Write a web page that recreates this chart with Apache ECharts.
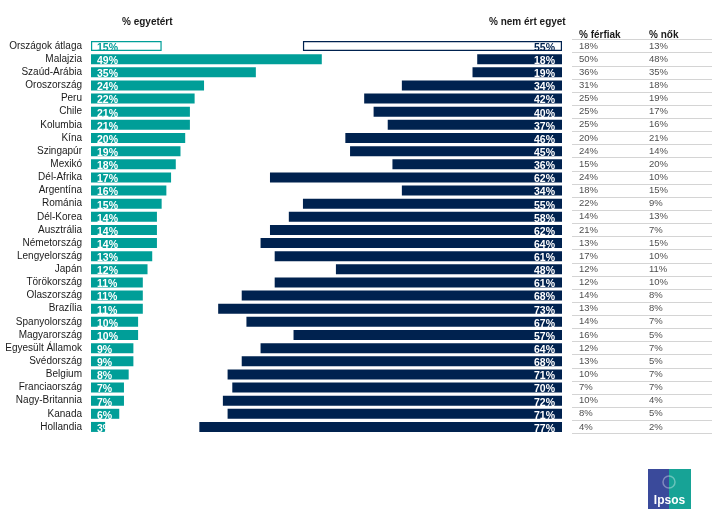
<!DOCTYPE html>
<html>
<head>
<meta charset="utf-8">
<script src="https://cdn.jsdelivr.net/npm/echarts@6/dist/echarts.min.js"></script>
<style>
html,body{margin:0;padding:0;background:#fff;}
#c{width:718px;height:522px;}
</style>
</head>
<body>
<div id="c"></div>
<script>
const countries = ['Országok átlaga','Malajzia','Szaúd-Arábia','Oroszország','Peru','Chile','Kolumbia','Kína','Szingapúr','Mexikó','Dél-Afrika','Argentína','Románia','Dél-Korea','Ausztrália','Németország','Lengyelország','Japán','Törökország','Olaszország','Brazília','Spanyolország','Magyarország','Egyesült Államok','Svédország','Belgium','Franciaország','Nagy-Britannia','Kanada','Hollandia'];
const agree =    [15,49,35,24,22,21,21,20,19,18,17,16,15,14,14,14,13,12,11,11,11,10,10,9,9,8,7,7,6,3];
const disagree = [55,18,19,34,42,40,37,46,45,36,62,34,55,58,62,64,61,48,61,68,73,67,57,64,68,71,70,72,71,77];
const men =      [18,50,36,31,25,25,25,20,24,15,24,18,22,14,21,13,17,12,12,14,13,14,16,12,13,10,7,10,8,4];
const women =    [13,48,35,18,19,17,16,21,14,20,10,15,9,13,7,15,10,11,10,8,8,7,5,7,5,7,7,4,5,2];
const tableHeaders = ['% férfiak','% nők'];
const titleAgree = '% egyetért';
const titleDisagree = '% nem ért egyet';

const TEAL = '#009E98';
const NAVY = '#00224F';
const FONT = 'Arial, "Liberation Sans", sans-serif';

const chart = echarts.init(document.getElementById('c'), null, {renderer:'canvas'});

const gridTop = 39.5, gridH = 394;

function catAxis(gridIndex, showLabels, split) {
  return {
    type:'category', gridIndex, data: countries, inverse:true,
    axisLine:{show:false}, axisTick:{show:false},
    axisLabel:{show:showLabels, interval:0, margin:9, fontSize:10, color:'#1a1a1a', fontFamily:FONT},
    splitLine:{show:!!split, interval:0, lineStyle:{color:'#d4d4d4', width:1}}
  };
}

const agreeData = agree.map((v,i)=> i===0 ? {value:v, itemStyle:{color:'#fff', borderColor:TEAL, borderWidth:1.2}, label:{color:TEAL}} : v);
const disagreeData = disagree.map((v,i)=> i===0 ? {value:v, itemStyle:{color:'#fff', borderColor:NAVY, borderWidth:1.2}, label:{color:NAVY}} : v);

const option = {
  animation:false,
  backgroundColor:'#fff',
  grid:[
    {left:91, top:gridTop, width:471, height:gridH},
    {left:91, top:gridTop, width:471, height:gridH},
    {left:572, top:gridTop, width:140, height:gridH}
  ],
  xAxis:[
    {type:'value', gridIndex:0, min:0, max:100, show:false},
    {type:'value', gridIndex:1, min:0, max:100, inverse:true, show:false},
    {type:'value', gridIndex:2, min:0, max:2, interval:1, position:'top',
      axisLine:{show:false}, axisTick:{show:false}, splitLine:{show:false},
      axisLabel:{show:true, margin:-1, align:'left', padding:[0,0,0,7], fontSize:10, fontWeight:'bold', color:'#1a1a1a', fontFamily:FONT,
        formatter:(v)=> tableHeaders[v] !== undefined ? tableHeaders[v] : ''}}
  ],
  yAxis:[
    catAxis(0, true, false),
    catAxis(1, false, false),
    catAxis(2, false, true)
  ],
  graphic:[
    {type:'text', left:122, top:17, style:{text:titleAgree, font:'bold 10px '+FONT, fill:'#1a1a1a'}},
    {type:'text', left:489, top:17, style:{text:titleDisagree, font:'bold 10px '+FONT, fill:'#1a1a1a'}},
    {type:'group', left:648, top:469, children:[
      {type:'rect', shape:{x:0,y:0,width:22,height:40}, style:{fill:'#3a4a9b'}},
      {type:'rect', shape:{x:21,y:0,width:22,height:40}, style:{fill:'#17a396'}},
      {type:'circle', shape:{cx:21,cy:13,r:6}, style:{fill:'none', stroke:'rgba(255,255,255,0.35)', lineWidth:1.5}},
      {type:'text', style:{x:21.5, y:32, text:'Ipsos', align:'center', verticalAlign:'middle', font:'bold 12px '+FONT, fill:'#fff'}}
    ]}
  ],
  series:[
    {type:'bar', xAxisIndex:0, yAxisIndex:0, data:agreeData, barWidth:10,
      itemStyle:{color:TEAL},
      label:{show:true, position:'insideLeft', distance:6, offset:[0,2], formatter:'{c}%', color:'#fff', fontWeight:'bold', fontSize:10.5, fontFamily:FONT}},
    {type:'bar', xAxisIndex:1, yAxisIndex:1, data:disagreeData, barWidth:10,
      itemStyle:{color:NAVY},
      label:{show:true, position:'insideRight', distance:7, offset:[0,2], formatter:'{c}%', color:'#fff', fontWeight:'bold', fontSize:10.5, fontFamily:FONT}},
    {type:'scatter', xAxisIndex:2, yAxisIndex:2, symbolSize:0, data: men.map((v,i)=>[0,i,v]),
      label:{show:true, position:'right', distance:7, formatter:(p)=>p.value[2]+'%', fontSize:9.5, color:'#1a1a1a', fontFamily:FONT}},
    {type:'scatter', xAxisIndex:2, yAxisIndex:2, symbolSize:0, data: women.map((v,i)=>[1,i,v]),
      label:{show:true, position:'right', distance:7, formatter:(p)=>p.value[2]+'%', fontSize:9.5, color:'#1a1a1a', fontFamily:FONT}}
  ]
};
chart.setOption(option);
</script>
</body>
</html>
